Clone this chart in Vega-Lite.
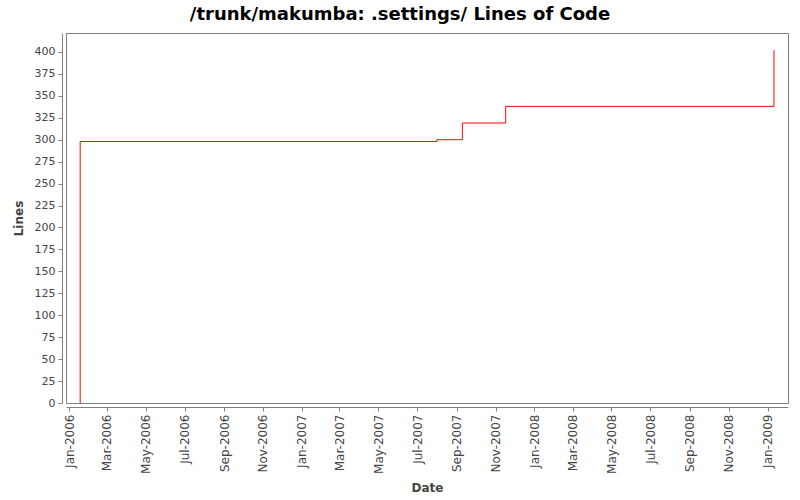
{
  "$schema": "https://vega.github.io/schema/vega-lite/v6.json",
  "width": 722,
  "height": 370,
  "autosize": "none",
  "padding": {"left": 66, "top": 33, "right": 12, "bottom": 97},
  "background": "white",
  "title": {
    "text": "/trunk/makumba: .settings/ Lines of Code",
    "font": "DejaVu Sans",
    "fontSize": 18,
    "fontWeight": "bold",
    "color": "#000000",
    "anchor": "middle",
    "dx": -27,
    "offset": 9
  },
  "config": {
    "view": {"stroke": "#808080", "strokeWidth": 1},
    "axis": {
      "labelFont": "DejaVu Sans",
      "labelFontSize": 11,
      "labelColor": "#444444",
      "titleFont": "DejaVu Sans",
      "titleFontSize": 12,
      "titleFontWeight": "bold",
      "titleColor": "#444444",
      "domainColor": "#808080",
      "tickColor": "#808080",
      "tickSize": 4,
      "offset": 4,
      "grid": false
    }
  },
  "data": {
    "values": [
      {"date": "2006-01-18T00:00:00Z", "lines": 0},
      {"date": "2006-01-18T06:00:00Z", "lines": 298},
      {"date": "2007-08-01T00:00:00Z", "lines": 300},
      {"date": "2007-09-10T00:00:00Z", "lines": 319},
      {"date": "2007-11-17T00:00:00Z", "lines": 338},
      {"date": "2009-01-11T00:00:00Z", "lines": 402}
    ]
  },
  "mark": {"type": "line", "interpolate": "step-after", "color": "#ff0000", "strokeWidth": 1, "clip": true},
  "encoding": {
    "x": {
      "field": "date",
      "type": "temporal",
      "title": "Date",
      "scale": {"type": "utc", "domain": ["2005-12-27T00:00:00Z", "2009-02-02T00:00:00Z"], "nice": false},
      "axis": {
        "labelExpr": "utcFormat(datum.value, '%b-%Y')",
        "tickCount": {"interval": "month", "step": 2},
        "labelFontSize": 12,
        "labelAngle": -90,
        "labelAlign": "right",
        "labelBaseline": "middle",
        "labelPadding": 3,
        "titlePadding": 9
      }
    },
    "y": {
      "field": "lines",
      "type": "quantitative",
      "title": "Lines",
      "scale": {"domain": [0, 421.6], "nice": false},
      "axis": {
        "values": [0, 25, 50, 75, 100, 125, 150, 175, 200, 225, 250, 275, 300, 325, 350, 375, 400],
        "labelPadding": 3,
        "titlePadding": 9
      }
    }
  }
}
